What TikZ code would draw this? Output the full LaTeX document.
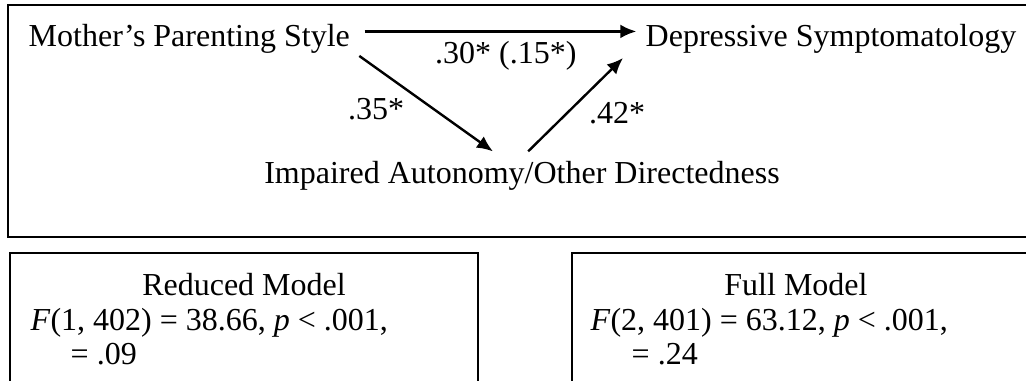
\documentclass[tikz,border=0pt]{standalone}
\usepackage{fontspec}
\setmainfont{Liberation Serif}
\usetikzlibrary{arrows.meta,positioning}

\begin{document}
\begin{tikzpicture}[
  x=0.375pt, y=-0.375pt,
  >={Latex[length=6pt,width=5.2pt]},
  every node/.style={font=\fontsize{12}{12.9}\selectfont},
  frame/.style={draw, line width=0.85pt},
  link/.style={->, line width=0.9pt}
]
\useasboundingbox (0,0) rectangle (1026,380);
\clip (0,0) rectangle (1026,380);

% mediation model
\draw[frame] (8,5) rectangle (1040,237);
\node[anchor=base west] (mother) at (19.3,46) {Mother's Parenting Style};
\node[anchor=base west] (depress) at (636.3,46) {Depressive Symptomatology};
\node[anchor=base] (autonomy) at (522,183) {Impaired Autonomy/Other Directedness};

\draw[link] ([shift={(2pt,2.6pt)}]mother.east) -- node[below, xshift=2pt] (cpath) {.30* (.15*)} ([yshift=2.6pt]depress.west);
\draw[link] ([yshift=2.4pt]mother.south east) -- node[left=4.5pt, yshift=-1.9pt] (apath) {.35*} ([xshift=-10.9pt]autonomy.north);
\draw[link] ([xshift=2.3pt]autonomy.north) -- node[right=1.3pt, yshift=-3pt] (bpath) {.42*} ([shift={(-5pt,1.6pt)}]depress.south west);

% model fit
\draw[frame] (10,253) rectangle (478,400);
\node[anchor=base] (redtitle) at (244,295) {Reduced Model};
\node[anchor=base west] (redF) at (21.3,330) {\textit{F}(1, 402) = 38.66, \textit{p} < .001,};
\node[anchor=base west] (redR) at (61.3,364) {= .09};

\draw[frame] (572,253) rectangle (1060,400);
\node[anchor=base] (fulltitle) at (796,295) {Full Model};
\node[anchor=base west] (fullF) at (581.3,330) {\textit{F}(2, 401) = 63.12, \textit{p} < .001,};
\node[anchor=base west] (fullR) at (622.3,364) {= .24};
\end{tikzpicture}
\end{document}
